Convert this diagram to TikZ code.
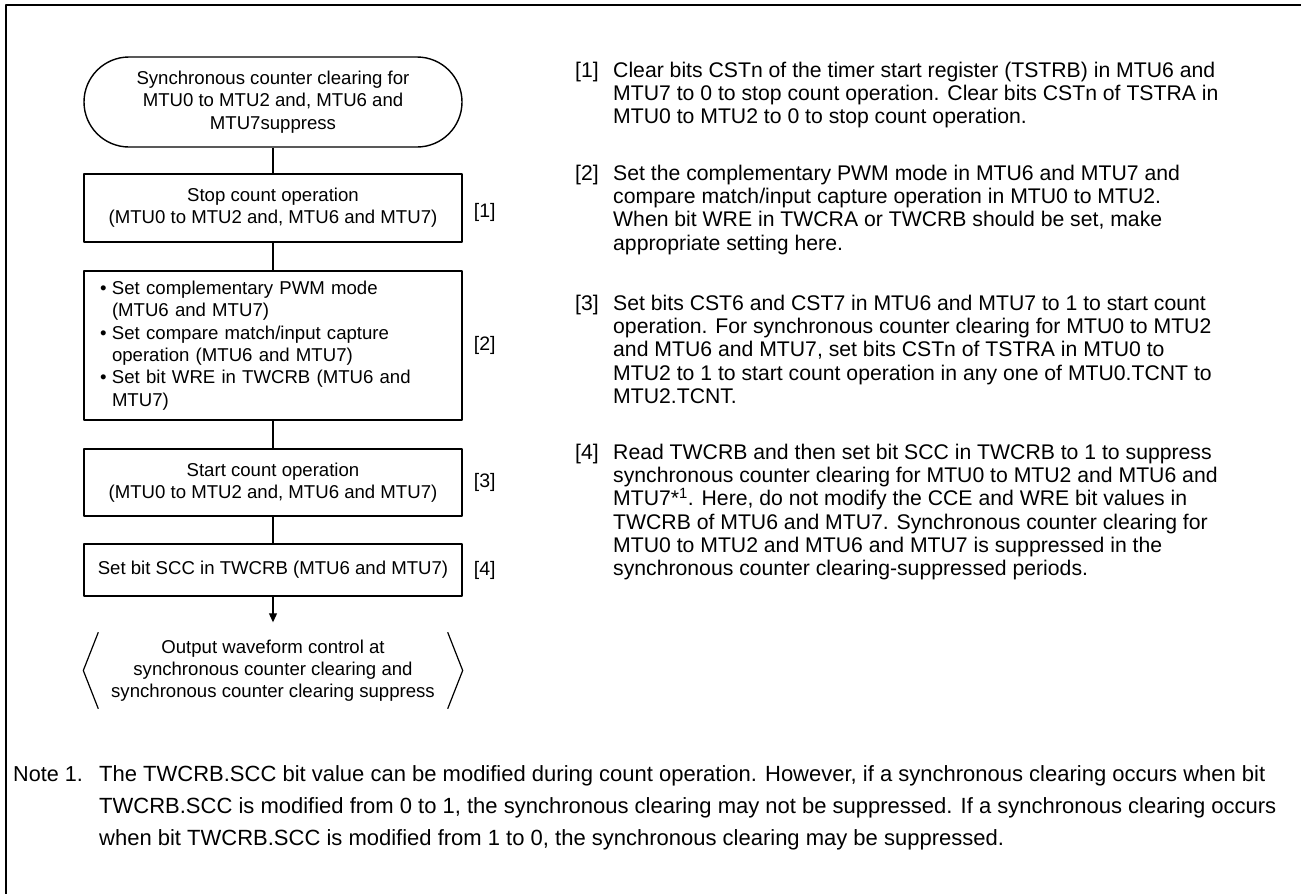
\documentclass[tikz,border=0pt]{standalone}
\usepackage{fontspec}
\setmainfont{Liberation Sans}
\usetikzlibrary{arrows.meta,calc}
\usetikzlibrary{positioning}
\tikzset{flowbox/.style={draw,line width=1.4pt,minimum width=378pt,inner sep=0pt,align=center,font=\fontsize{18.6}{22.3}\selectfont},
  steplbl/.style={inner sep=0pt,font=\fontsize{19.5}{22}\selectfont},
  parnum/.style={inner sep=0pt,anchor=base west,font=\fontsize{21.2}{23.2}\selectfont},
  partext/.style={inner sep=0pt,anchor=north west,align=left,font=\fontsize{21.2}{23.2}\selectfont},
  notenum/.style={inner sep=0pt,anchor=base west,font=\fontsize{21.6}{32}\selectfont},
  notetext/.style={inner sep=0pt,anchor=north west,align=left,font=\fontsize{22}{32}\selectfont}}
\newcommand{\bulitem}{\makebox[12pt][l]{\textbullet}}
\newcommand{\bulcont}{\hspace*{12pt}}

\begin{document}
\begin{tikzpicture}[x=1pt,y=-1pt,>={Triangle[length=9pt,width=8pt]},line join=round]
\useasboundingbox (0,0) rectangle (1301,894);
% --- frame, open at right and bottom
\draw[line width=2.4pt] (6,894) -- (6,5) -- (1301,5);
% --- flow chart
\node[flowbox,rounded corners=45pt,minimum height=90pt] (start) at (273,102) {Synchronous counter clearing for\\MTU0 to MTU2 and, MTU6 and\\MTU7suppress};
\node[flowbox,minimum height=68pt] (s1) at (273,208) {Stop count operation\\(MTU0 to MTU2 and, MTU6 and MTU7)};
\node[flowbox,minimum height=149pt,text width=346pt,inner xsep=16pt,align=left] (s2) at (273,345.5) {\bulitem Set complementary PWM mode\\\bulcont(MTU6 and MTU7)\\\bulitem Set compare match/input capture\\\bulcont operation (MTU6 and MTU7)\\\bulitem Set bit WRE in TWCRB (MTU6 and\\\bulcont MTU7)};
\node[flowbox,minimum height=67pt] (s3) at (273,482.5) {Start count operation\\(MTU0 to MTU2 and, MTU6 and MTU7)};
\node[flowbox,minimum height=52pt] (s4) at (273,570) {Set bit SCC in TWCRB (MTU6 and MTU7)};
\node[flowbox,draw=none,minimum height=95pt] (out) at (273,670.5) {Output waveform control at\\synchronous counter clearing and\\synchronous counter clearing suppress};
\draw[line width=1.2pt] ($(out.north west)+(15,10)$) -- (out.west) -- ($(out.south west)+(15,-10)$);
\draw[line width=1.2pt] ($(out.north east)+(-15,10)$) -- (out.east) -- ($(out.south east)+(-15,-10)$);
\draw[line width=1.1pt] (start) -- (s1) (s1) -- (s2) (s2) -- (s3) (s3) -- (s4);
\draw[->,line width=1.1pt] (s4) -- (out);
\node[steplbl,right=11pt of s1,yshift=-4pt] (l1) {[1]};
\node[steplbl,right=11pt of s2] (l2) {[2]};
\node[steplbl,right=11pt of s3] (l3) {[3]};
\node[steplbl,right=11pt of s4] (l4) {[4]};
% --- explanations
\node[parnum] (p1n) at (575,77.5) {[1]};
\node[partext] (p1) at (613,62) {Clear bits CSTn of the timer start register (TSTRB) in MTU6 and\\MTU7 to 0 to stop count operation. Clear bits CSTn of TSTRA in\\MTU0 to MTU2 to 0 to stop count operation.};
\node[parnum] (p2n) at (575,180.5) {[2]};
\node[partext] (p2) at (613,165) {Set the complementary PWM mode in MTU6 and MTU7 and\\compare match/input capture operation in MTU0 to MTU2.\\When bit WRE in TWCRA or TWCRB should be set, make\\appropriate setting here.};
\node[parnum] (p3n) at (575,310.5) {[3]};
\node[partext] (p3) at (613,295) {Set bits CST6 and CST7 in MTU6 and MTU7 to 1 to start count\\operation. For synchronous counter clearing for MTU0 to MTU2\\and MTU6 and MTU7, set bits CSTn of TSTRA in MTU0 to\\MTU2 to 1 to start count operation in any one of MTU0.TCNT to\\MTU2.TCNT.};
\node[parnum] (p4n) at (575,459.5) {[4]};
\node[partext] (p4) at (613,444) {Read TWCRB and then set bit SCC in TWCRB to 1 to suppress\\synchronous counter clearing for MTU0 to MTU2 and MTU6 and\\MTU7*\textsuperscript{1}. Here, do not modify the CCE and WRE bit values in\\TWCRB of MTU6 and MTU7. Synchronous counter clearing for\\MTU0 to MTU2 and MTU6 and MTU7 is suppressed in the\\synchronous counter clearing-suppressed periods.};
% --- note
\node[notenum] (nn) at (13,781) {Note 1.};
\node[notetext] (note) at (99,765) {The TWCRB.SCC bit value can be modified during count operation. However, if a synchronous clearing occurs when bit\\TWCRB.SCC is modified from 0 to 1, the synchronous clearing may not be suppressed. If a synchronous clearing occurs\\when bit TWCRB.SCC is modified from 1 to 0, the synchronous clearing may be suppressed.};
\end{tikzpicture}
\end{document}
